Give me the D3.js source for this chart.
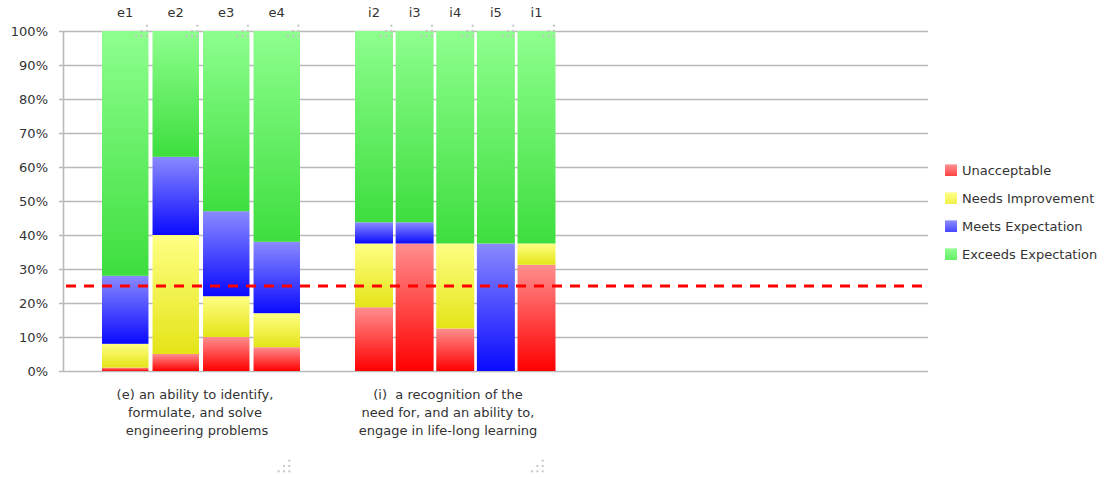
<!DOCTYPE html>
<html>
<head>
<meta charset="utf-8">
<script src="https://cdn.jsdelivr.net/npm/d3@7"></script>
<style>
  html, body { margin: 0; padding: 0; background: #fff; }
  svg { display: block; font-family: "DejaVu Sans", sans-serif; }
  text { fill: #333; }
</style>
</head>
<body>
<svg id="chart" width="1105" height="477"></svg>
<script>
// Outcome categories, split into the two assessed outcomes
const categoriesE = ["e1", "e2", "e3", "e4"];
const categoriesI = ["i2", "i3", "i4", "i5", "i1"];

// Percent of students at each rating level, per category (e1..e4, then i2,i3,i4,i5,i1)
const unacceptable     = [1, 5, 10, 7,   18.75, 37.5, 12.5, 0,    31.25];
const needsImprovement = [7, 35, 12, 10, 18.75, 0,    25,   0,    6.25];
const meetsExpectation = [20, 23, 25, 21, 6.25, 6.25, 0,    37.5, 0];
const exceedsExpectation = [72, 37, 53, 62, 56.25, 56.25, 62.5, 62.5, 62.5];

const seriesNames = ["Unacceptable", "Needs Improvement", "Meets Expectation", "Exceeds Expectation"];
const yTicks = [0, 10, 20, 30, 40, 50, 60, 70, 80, 90, 100];
const targetLevel = 25;

const groupLabelE = ["(e) an ability to identify,", "formulate, and solve", " engineering problems"];
const groupLabelI = ["(i)  a recognition of the", "need for, and an ability to,", "engage in life-long learning"];

// Vertical gradient stops (top colour, bottom colour) for each rating level
const gradientStops = [
  ["#ff8e8e", "#ff0000"],
  ["#ffff84", "#e4e418"],
  ["#8a8aff", "#0a0aff"],
  ["#8eff8e", "#3ede3e"]
];

const svg = d3.select("#chart");
const defs = svg.append("defs");
gradientStops.forEach((s, i) => {
  const g = defs.append("linearGradient")
    .attr("id", "grad" + i)
    .attr("x1", 0).attr("y1", 0).attr("x2", 0).attr("y2", 1);
  g.append("stop").attr("offset", "0%").attr("stop-color", s[0]);
  g.append("stop").attr("offset", "100%").attr("stop-color", s[1]);
});

const plotLeft = 63.5, plotRight = 928, plotTop = 31, plotBottom = 371;

const y = d3.scaleLinear().domain([0, 100]).range([plotBottom, plotTop]);

const xE = d3.scaleBand().domain(categoriesE).range([102, 300]).paddingInner(0.08).paddingOuter(0);
const xI = d3.scaleBand().domain(categoriesI).range([355, 555.5]).paddingInner(0.065).paddingOuter(0);

// Horizontal grid lines
svg.append("g").selectAll("line")
  .data(yTicks)
  .join("line")
  .attr("x1", 59).attr("x2", plotRight)
  .attr("y1", d => Math.round(y(d)) + 0.5).attr("y2", d => Math.round(y(d)) + 0.5)
  .attr("stroke", "#b9b9b9").attr("stroke-width", 1.6);

// Vertical axis line
svg.append("line")
  .attr("x1", plotLeft).attr("x2", plotLeft)
  .attr("y1", plotTop).attr("y2", plotBottom)
  .attr("stroke", "#b9b9b9").attr("stroke-width", 1.6);

// Y axis labels
const yAxis = d3.axisLeft(y).tickValues(yTicks).tickFormat(d => d + "%").tickSize(0).tickPadding(0);
const yAxisG = svg.append("g").attr("transform", "translate(48,0)").call(yAxis);
yAxisG.select(".domain").remove();
yAxisG.selectAll("text")
  .attr("font-size", 13).attr("font-family", "DejaVu Sans, sans-serif")
  .attr("fill", "#333").attr("dy", "0.35em");

// Build stacked rows
const allCats = categoriesE.concat(categoriesI);
const rows = allCats.map((c, i) => ({
  cat: c,
  s0: unacceptable[i], s1: needsImprovement[i], s2: meetsExpectation[i], s3: exceedsExpectation[i]
}));
const stacked = d3.stack().keys(["s0", "s1", "s2", "s3"])(rows);

function xOf(cat) { return categoriesE.includes(cat) ? xE(cat) : xI(cat); }
function wOf(cat) { return categoriesE.includes(cat) ? xE.bandwidth() : xI.bandwidth(); }

const barsG = svg.append("g");
stacked.forEach((layer, li) => {
  barsG.append("g").selectAll("rect")
    .data(layer.filter(d => d[1] - d[0] > 0))
    .join("rect")
    .attr("x", d => xOf(d.data.cat))
    .attr("width", d => wOf(d.data.cat))
    .attr("y", d => y(d[1]))
    .attr("height", d => y(d[0]) - y(d[1]))
    .attr("fill", "url(#grad" + li + ")");
});

// Category labels above the bars
svg.append("g").selectAll("text")
  .data(allCats)
  .join("text")
  .attr("x", d => xOf(d) + wOf(d) / 2)
  .attr("y", 12.5)
  .attr("dy", "0.35em")
  .attr("text-anchor", "middle")
  .attr("font-size", 13)
  .text(d => d);

// Small grip dots at each bar's top-right corner
function grip(g, rx, by, color) {
  const pts = [[0, 0], [-5.3, 5.3], [0, 5.3], [-10.6, 10.6], [-5.3, 10.6], [0, 10.6]];
  g.selectAll(null).data(pts).join("rect")
    .attr("x", p => rx + p[0] - 1).attr("y", p => by + p[1] - 1)
    .attr("width", 2).attr("height", 2)
    .attr("fill", color);
}
allCats.forEach(c => {
  const g = svg.append("g");
  grip(g, xOf(c) + wOf(c) - 1.6, 25.7, "#c4c4c4");
});
grip(svg.append("g"), 289.3, 460.7, "#c8c8c8");
grip(svg.append("g"), 542.7, 460.7, "#c8c8c8");

// Target line at 25%
svg.append("line")
  .attr("x1", 66).attr("x2", 922)
  .attr("y1", y(targetLevel)).attr("y2", y(targetLevel))
  .attr("stroke", "#ff0000").attr("stroke-width", 3)
  .attr("stroke-dasharray", "10,8");

// Group descriptions under each group of bars
function groupLabel(lines, cx) {
  svg.append("g").selectAll("text")
    .data(lines)
    .join("text")
    .attr("x", cx)
    .attr("y", (d, i) => 394 + i * 18.4)
    .attr("dy", "0.35em")
    .attr("text-anchor", "middle")
    .attr("font-size", 13)
    .attr("xml:space", "preserve")
    .text(d => d);
}
groupLabel(groupLabelE, 195);
groupLabel(groupLabelI, 448);

// Legend
const legend = svg.append("g").attr("transform", "translate(945,170)");
const items = legend.selectAll("g").data(seriesNames).join("g")
  .attr("transform", (d, i) => `translate(0,${i * 28})`);
items.append("rect")
  .attr("x", 0).attr("y", -5.5).attr("width", 12).attr("height", 11.5)
  .attr("fill", (d, i) => gradientStops[i][0])
  .attr("opacity", 0.95);
items.append("rect")
  .attr("x", 0).attr("y", -5.5).attr("width", 12).attr("height", 11.5)
  .attr("fill", (d, i) => "url(#grad" + i + ")")
  .attr("opacity", 0.55);
items.append("text")
  .attr("x", 17).attr("y", 0).attr("dy", "0.35em")
  .attr("font-size", 13)
  .text(d => d);
</script>
</body>
</html>
